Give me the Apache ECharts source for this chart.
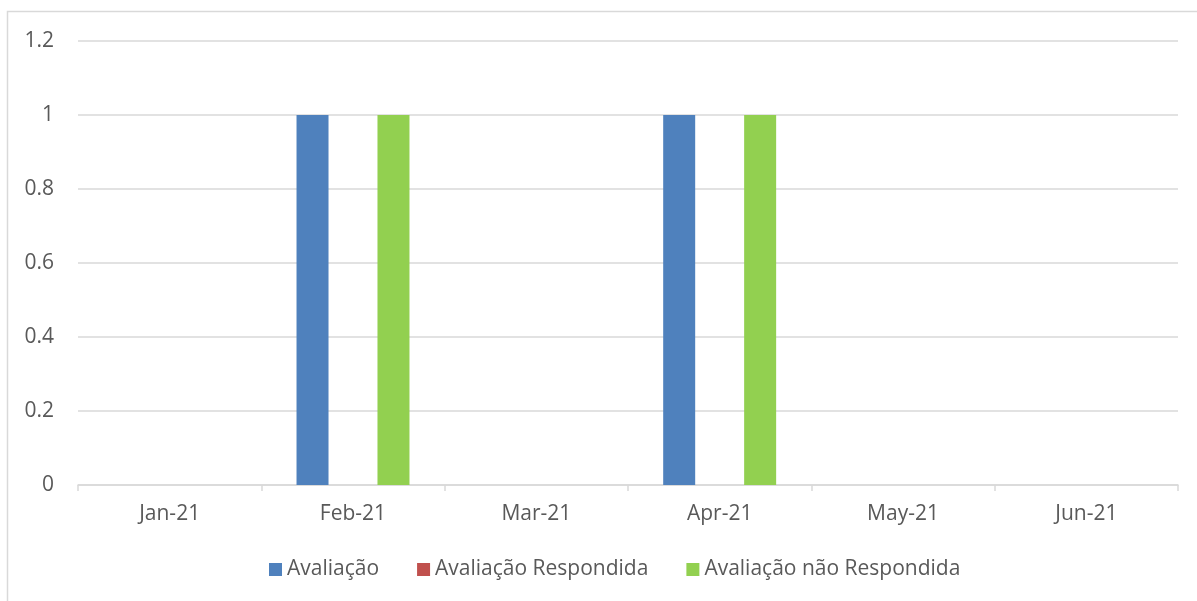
<!DOCTYPE html>
<html><head><meta charset="utf-8">
<script src="https://cdn.jsdelivr.net/npm/echarts@6/dist/echarts.min.js"></script>
<style>html,body{margin:0;padding:0;background:#fff}#c{width:1197px;height:601px}</style>
</head><body><div id="c"></div>
<script>
const categories = ['Jan-21','Feb-21','Mar-21','Apr-21','May-21','Jun-21'];
const avaliacao = [0,1,0,1,0,0];
const avaliacaoRespondida = [0,0,0,0,0,0];
const avaliacaoNaoRespondida = [0,1,0,1,0,0];
const seriesNames = ['Avaliação','Avaliação Respondida','Avaliação não Respondida'];
const colors = ['#4f81bd','#c0504d','#92d050'];

const chart = echarts.init(document.getElementById('c'), null, {renderer:'canvas'});
const font = '"Open Sans", sans-serif';
const txt = '#595959';
chart.setOption({
  animation:false,
  color: colors,
  textStyle:{fontFamily:font},
  graphic:[{type:'rect', shape:{x:7.5,y:11.5,width:1200,height:600}, style:{fill:'none',stroke:'#d9d9d9',lineWidth:1.5}, z:-1}],
  grid:{left:78,right:19,top:41,bottom:116,containLabel:false},
  legend:{
    top:554, left:264, itemWidth:13, itemHeight:13, itemGap:38, icon:'rect',
    textStyle:{color:txt,fontSize:21,fontFamily:font},
    data: seriesNames
  },
  xAxis:{
    type:'category', data:categories,
    axisLine:{lineStyle:{color:'#d9d9d9',width:1.5}},
    axisTick:{show:true,length:6,lineStyle:{color:'#d9d9d9',width:1.5}},
    axisLabel:{color:txt,fontSize:21,margin:19,fontFamily:font}
  },
  yAxis:{
    type:'value', min:0, max:1.2, interval:0.2,
    axisLine:{show:false}, axisTick:{show:false},
    splitLine:{lineStyle:{color:'#d9d9d9',width:1.5}},
    axisLabel:{color:txt,fontSize:21,margin:24,fontFamily:font,formatter:v=>String(Math.round(v*10)/10)}
  },
  series:[
    {name:seriesNames[0],type:'bar',data:avaliacao,barWidth:32,barGap:'26.5%'},
    {name:seriesNames[1],type:'bar',data:avaliacaoRespondida,barWidth:32,barGap:'26.5%'},
    {name:seriesNames[2],type:'bar',data:avaliacaoNaoRespondida,barWidth:32,barGap:'26.5%'}
  ]
});
</script></body></html>
